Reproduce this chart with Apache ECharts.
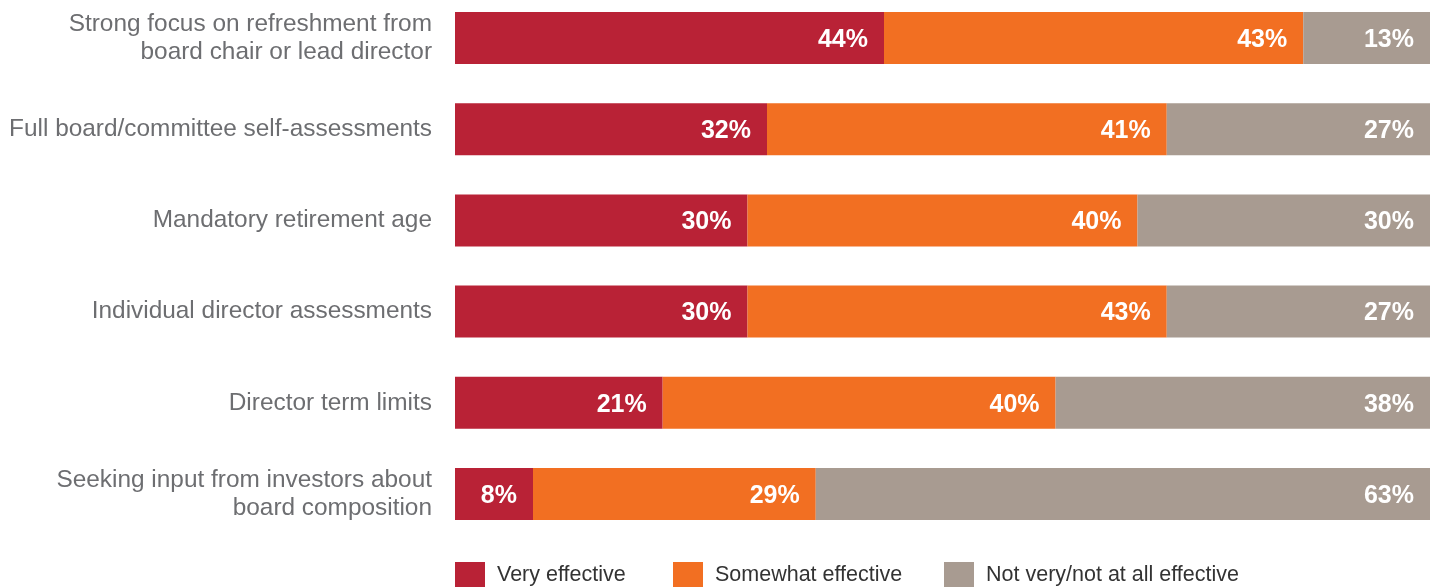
<!DOCTYPE html>
<html>
<head>
<meta charset="utf-8">
<script src="https://cdn.jsdelivr.net/npm/echarts@6/dist/echarts.min.js"></script>
<style>
html,body{margin:0;padding:0;background:#fff;}
#chart{width:1439px;height:587px;}
</style>
</head>
<body>
<div id="chart"></div>
<script>
const categories = [
  "Strong focus on refreshment from\nboard chair or lead director",
  "Full board/committee self-assessments",
  "Mandatory retirement age",
  "Individual director assessments",
  "Director term limits",
  "Seeking input from investors about\nboard composition"
];
const seriesNames = ["Very effective", "Somewhat effective", "Not very/not at all effective"];
const veryEffective = [44, 32, 30, 30, 21.3, 8];
const somewhatEffective = [43, 41, 40, 43, 40.3, 29];
const notEffective = [13, 27, 30, 27, 38.4, 63];
const colors = ["#B92236", "#F26F22", "#A89B91"];

const chart = echarts.init(document.getElementById('chart'), null, {renderer: 'canvas'});
const font = "'Liberation Sans', Arial, sans-serif";
function mk(name, data, color) {
  return {
    name: name,
    type: 'bar',
    stack: 'total',
    data: data,
    barWidth: 52,
    itemStyle: {color: color},
    label: {
      show: true,
      position: 'insideRight',
      distance: 16,
      offset: [0, 2],
      color: '#fff',
      fontFamily: font,
      fontWeight: 'bold',
      fontSize: 25,
      formatter: p => Math.round(p.value) + '%'
    },
    emphasis: {disabled: true}
  };
}
const legendLefts = [455, 673, 944];
chart.setOption({
  animation: false,
  grid: {left: 455, right: 9, top: 38, height: 456, containLabel: false},
  xAxis: {type: 'value', min: 0, max: 100, show: false},
  yAxis: {
    type: 'category',
    inverse: true,
    boundaryGap: false,
    data: categories,
    axisLine: {show: false},
    axisTick: {show: false},
    splitLine: {show: false},
    axisLabel: {
      margin: 23,
      color: '#6D6E71',
      fontFamily: font,
      fontSize: 24.4,
      lineHeight: 28,
      align: 'right'
    }
  },
  legend: seriesNames.map((n, i) => ({
    data: [n],
    left: legendLefts[i],
    top: 562,
    itemWidth: 30,
    itemHeight: 26,
    icon: 'rect',
    padding: 0,
    textStyle: {color: '#333', fontFamily: font, fontSize: 21.5, padding: [0, 0, 0, 7]},
    selectedMode: false
  })),
  series: [
    mk(seriesNames[0], veryEffective, colors[0]),
    mk(seriesNames[1], somewhatEffective, colors[1]),
    mk(seriesNames[2], notEffective, colors[2])
  ]
});
</script>
</body>
</html>
